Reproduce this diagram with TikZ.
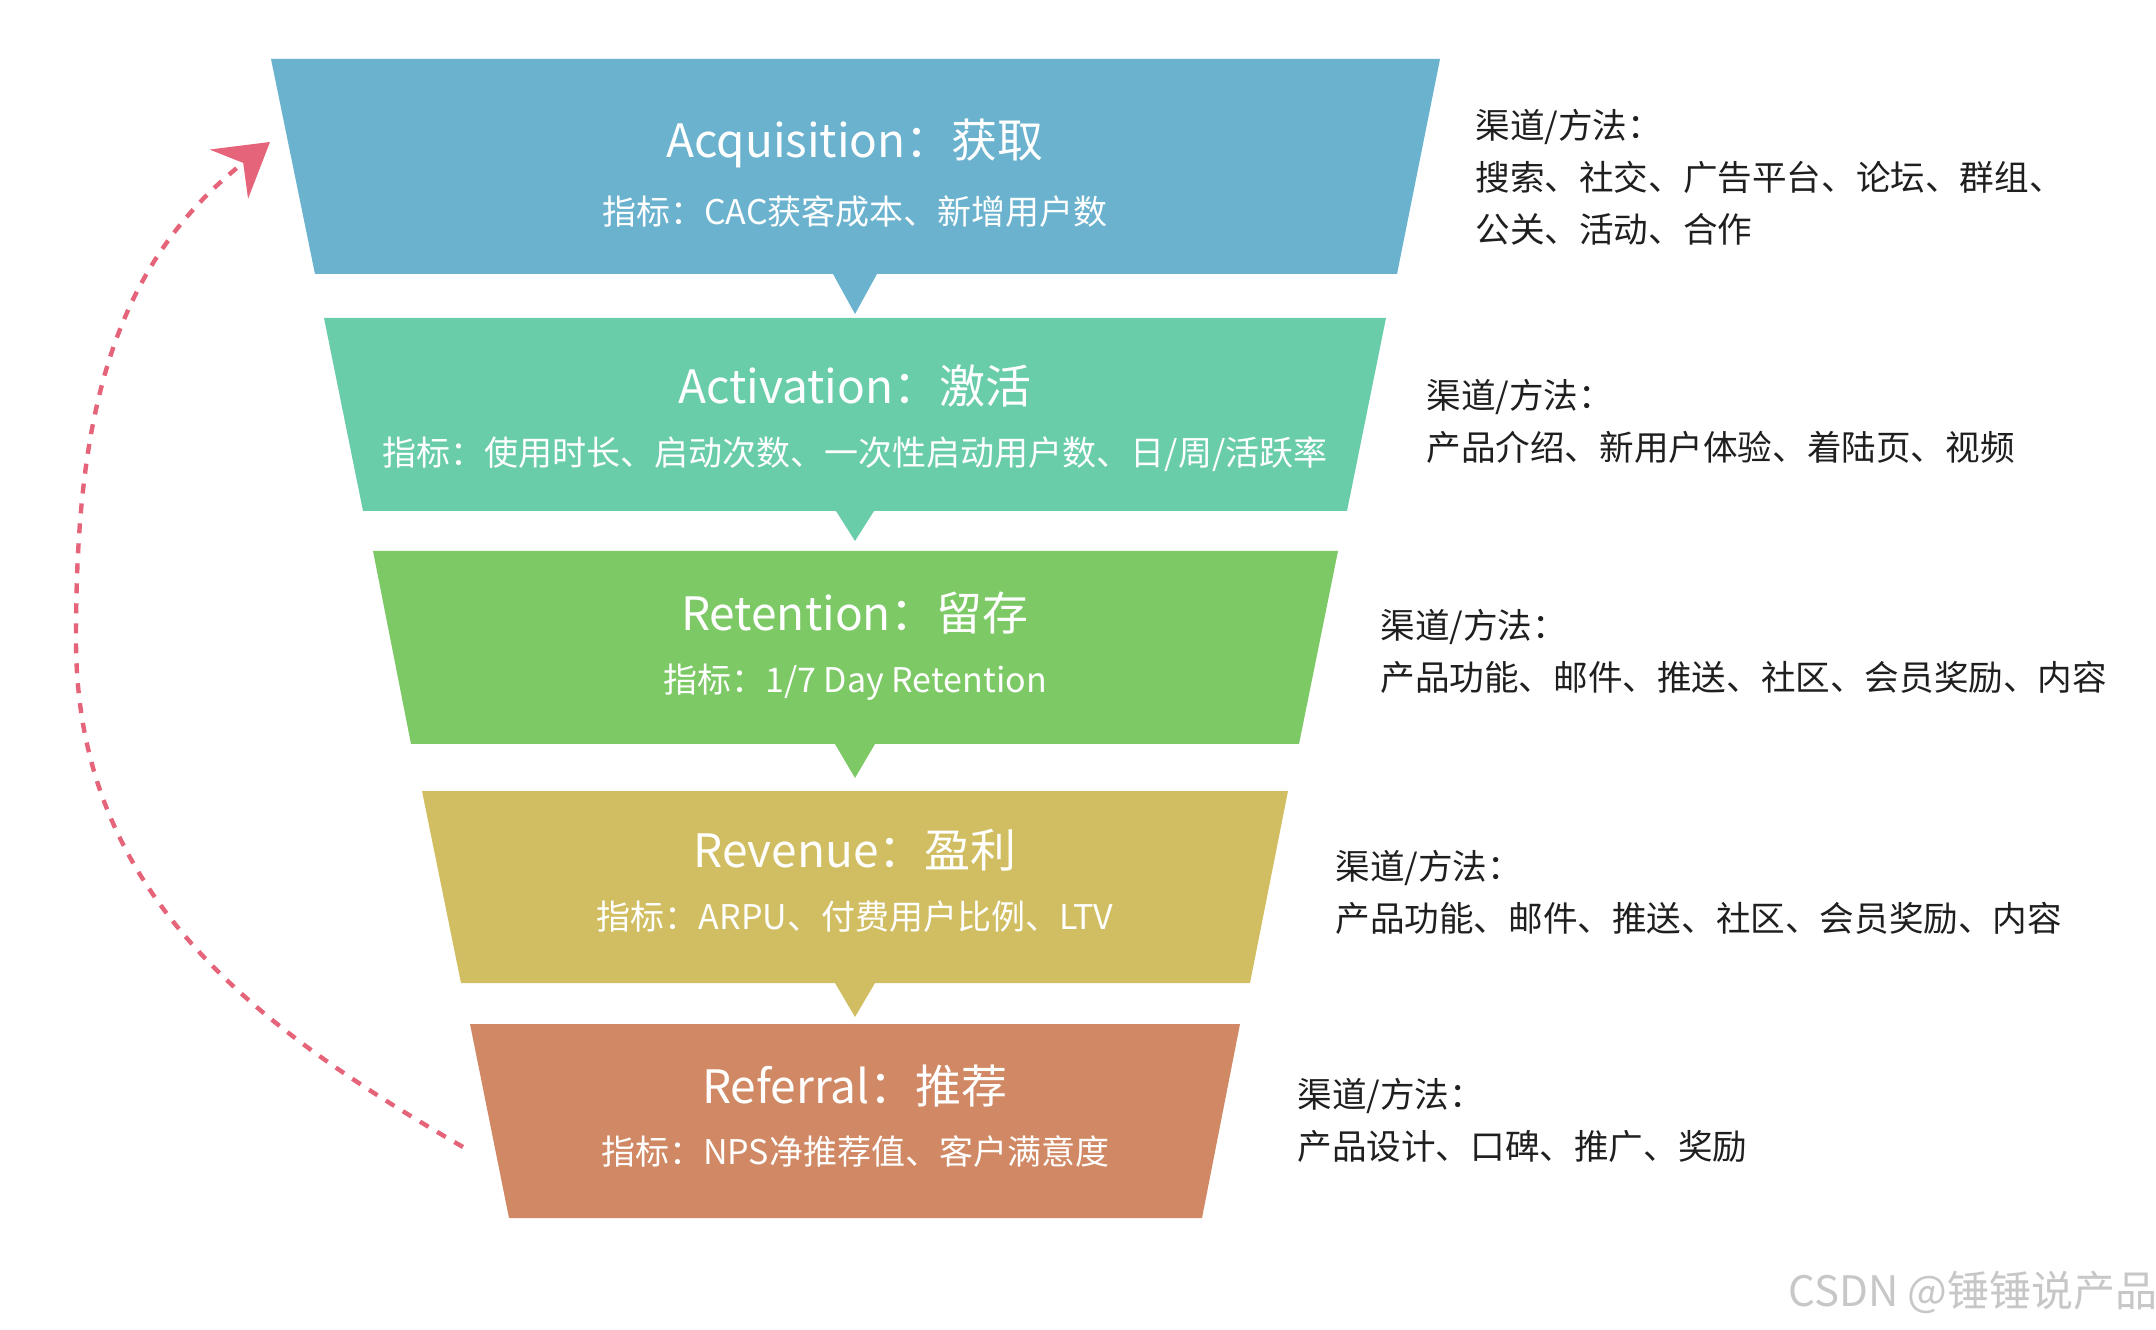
\documentclass[tikz,border=0pt]{standalone}
\usepackage{fontspec}
\setmainfont{Noto Sans CJK SC}
\usepackage{xcolor}
\usetikzlibrary{arrows.meta}
\definecolor{acqblue}{HTML}{6AB2CE}
\definecolor{actgreen}{HTML}{6ACDAA}
\definecolor{retgreen}{HTML}{7DC966}
\definecolor{revgold}{HTML}{D1BE63}
\definecolor{refbrown}{HTML}{D08964}
\definecolor{looppink}{HTML}{E5647A}

\begin{document}
\begin{tikzpicture}[x=0.5pt, y=0.5pt,
  >={Stealth[length=26pt, width=31pt, inset=9pt]},
  band/.style={fill=#1},
  ttl/.style={text=white, inner sep=0pt, font=\fontsize{23}{28}\selectfont},
  kpi/.style={text=white, inner sep=0pt, font=\fontsize{17}{21}\selectfont},
  chan/.style={anchor=west, align=left, inner sep=0pt, text=black!88, font=\fontsize{17.3}{26}\selectfont}]
  \useasboundingbox (0,0) rectangle (2156,1329);
  % funnel bands with their pointers
  \fill[band=acqblue] (271,1270) -- (1440,1270) -- (1397,1055) -- (877,1055) -- (855,1015) -- (833,1055) -- (315,1055) -- cycle;
  \fill[band=actgreen] (324,1011) -- (1386,1011) -- (1347,818) -- (874,818) -- (855,788) -- (836,818) -- (363,818) -- cycle;
  \fill[band=retgreen] (373,778) -- (1338,778) -- (1299,585) -- (875,585) -- (855,551) -- (835,585) -- (411,585) -- cycle;
  \fill[band=revgold] (422,538) -- (1288,538) -- (1250,346) -- (875,346) -- (855,312) -- (835,346) -- (461,346) -- cycle;
  \fill[band=refbrown] (470,305) -- (1240,305) -- (1202,111) -- (509,111) -- cycle;
  % stage names and metrics
  \node[ttl] (acq) at (855,1186) {Acquisition：获取};
  \node[kpi] (acqkpi) at (855,1117) {指标：CAC获客成本、新增用户数};
  \node[ttl] (act) at (855,943) {Activation：激活};
  \node[kpi] (actkpi) at (855,875) {指标：使用时长、启动次数、一次性启动用户数、日/周/活跃率};
  \node[ttl] (ret) at (855,716) {Retention：留存};
  \node[kpi] (retkpi) at (855,647) {指标：1/7 Day Retention};
  \node[ttl] (rev) at (855,479) {Revenue：盈利};
  \node[kpi] (revkpi) at (855,412) {指标：ARPU、付费用户比例、LTV};
  \node[ttl] (ref) at (855,243) {Referral：推荐};
  \node[kpi] (refkpi) at (855,177) {指标：NPS净推荐值、客户满意度};
  % channels on the right
  \node[chan] (acqch) at (1475,1152) {渠道/方法：\\搜索、社交、广告平台、论坛、群组、\\公关、活动、合作};
  \node[chan] (actch) at (1426,908) {渠道/方法：\\产品介绍、新用户体验、着陆页、视频};
  \node[chan] (retch) at (1380,678) {渠道/方法：\\产品功能、邮件、推送、社区、会员奖励、内容};
  \node[chan] (revch) at (1335,437) {渠道/方法：\\产品功能、邮件、推送、社区、会员奖励、内容};
  \node[chan] (refch) at (1297,209) {渠道/方法：\\产品设计、口碑、推广、奖励};
  \node[anchor=east, inner sep=0pt, text=black!22, font=\fontsize{21}{24}\selectfont] (mark) at (2158,37) {CSDN @锤锤说产品};
  % referral loops back to acquisition
  \coordinate (loopin) at (463,182);
  \coordinate (loopmid) at (76,689);
  \coordinate (loopout) at (270,1187);
  \draw[->, looppink, line width=2.2pt, dash pattern=on 5pt off 5pt] (loopin) to[out=150, in=270] (loopmid) to[out=90, in=218] (loopout);
\end{tikzpicture}
\end{document}
